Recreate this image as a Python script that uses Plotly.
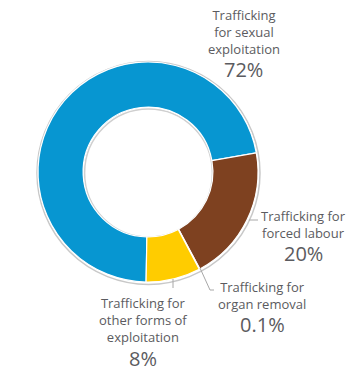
import plotly.graph_objects as go

W, H = 359, 376

labels = ["Trafficking for sexual exploitation", "Trafficking for forced labour",
          "Trafficking for organ removal", "Trafficking for other forms of exploitation"]
values = [72, 20, 0.1, 8]
value_text = ["72%", "20%", "0.1%", "8%"]
label_lines = [["Trafficking", "for sexual", "exploitation"],
               ["Trafficking for", "forced labour"],
               ["Trafficking for", "organ removal"],
               ["Trafficking for", "other forms of", "exploitation"]]
colors = ["#0796D1", "#7E4120", "#7E4120", "#FFCC00"]

cx, cy, R = 148, 172, 110
hole = 0.59

def px(x):
    return x / W

def py(y):
    return 1 - y / H

fig = go.Figure(go.Pie(
    labels=labels, values=values, sort=False, direction="clockwise",
    rotation=-179, hole=hole, textinfo="none", hoverinfo="label+percent",
    marker=dict(colors=colors, line=dict(color="white", width=1.2)),
    domain=dict(x=[px(cx - R), px(cx + R)], y=[py(cy + R), py(cy - R)]),
    showlegend=False,
))

txt_color = "#5B5B60"
lab_font = dict(family="Open Sans, Noto Sans, sans-serif", size=13, color=txt_color)
pct_font = dict(family="Open Sans, Noto Sans, sans-serif", size=20, color=txt_color)

# label anchor positions (center x, first-line center y, percent center y) in pixels
label_pos = [(244, 15, 69), (303, 216, 253), (262, 287, 324), (143, 303, 358)]

annotations = []
for lines, pct, (x, y0, yp) in zip(label_lines, value_text, label_pos):
    annotations.append(dict(x=px(x), y=py(y0 - 10), xref="paper", yref="paper",
                            text="<br>".join(lines), showarrow=False, font=lab_font,
                            xanchor="center", yanchor="top", align="center",
                            borderpad=0))
    annotations.append(dict(x=px(x), y=py(yp), xref="paper", yref="paper",
                            text=pct, showarrow=False, font=pct_font,
                            xanchor="center", yanchor="middle", borderpad=0))

lc = "#A8A8A8"
leaders = [
    [(249, 220), (258, 220)],
    [(200, 268), (210, 290), (214, 290)],
    [(173, 279), (173, 288)],
]
shapes = []
for pts in leaders:
    for (x0, y0), (x1, y1) in zip(pts[:-1], pts[1:]):
        shapes.append(dict(type="line", xref="paper", yref="paper",
                           x0=px(x0), y0=py(y0), x1=px(x1), y1=py(y1),
                           line=dict(color=lc, width=1)))

# subtle shadow outlines of the ring
ri = R * hole
for rr, col in [(R + 1.5, "#C8C8C8"), (ri - 1, "#CFCFCF")]:
    shapes.append(dict(type="circle", xref="paper", yref="paper", layer="below",
                       x0=px(cx - rr + 0.5), x1=px(cx + rr + 0.5),
                       y0=py(cy + rr + 1), y1=py(cy - rr + 1),
                       line=dict(color=col, width=1.5)))

fig.update_layout(width=W, height=H, margin=dict(l=0, r=0, t=0, b=0),
                  paper_bgcolor="white", plot_bgcolor="white",
                  annotations=annotations, shapes=shapes)

fig.write_html("out.html", config={"displayModeBar": False},
               post_script="document.body.style.margin='0';document.body.style.overflow='hidden';")
